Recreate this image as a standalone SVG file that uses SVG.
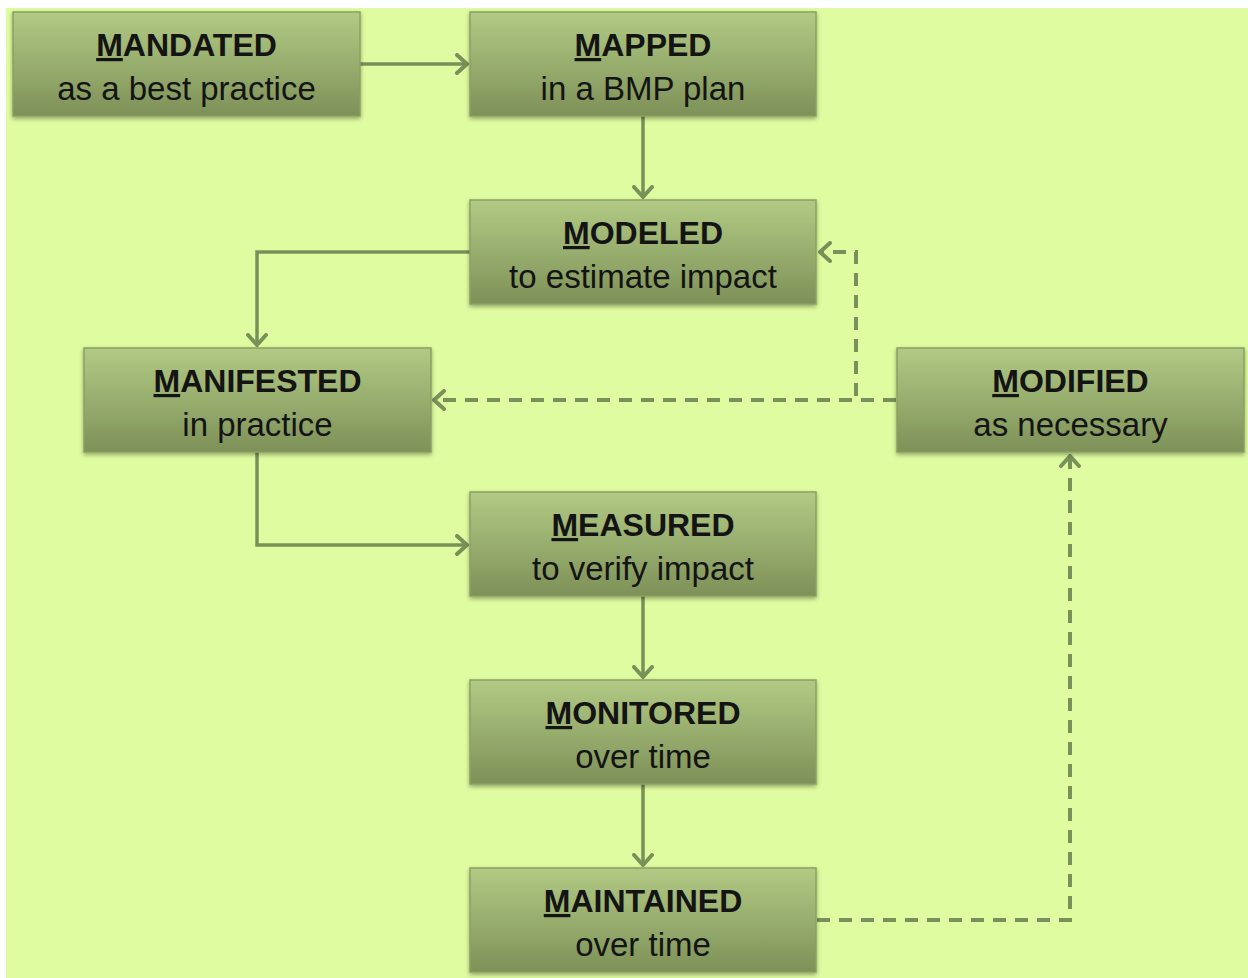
<svg xmlns="http://www.w3.org/2000/svg" width="1248" height="978" viewBox="0 0 1248 978">
<defs>
<linearGradient id="g" x1="0" y1="0" x2="0" y2="1">
<stop offset="0" stop-color="#b2ca84"/>
<stop offset="1" stop-color="#7e9158"/>
</linearGradient>
<filter id="sh" x="-10%" y="-10%" width="120%" height="130%">
<feDropShadow dx="0" dy="2" stdDeviation="2" flood-color="#000" flood-opacity="0.35"/>
</filter>
<marker id="ah" viewBox="0 0 14 22" refX="12" refY="11" markerWidth="14" markerHeight="22" markerUnits="userSpaceOnUse" orient="auto">
<path d="M2,2 L12,11 L2,20" fill="none" stroke="#78915a" stroke-width="4" stroke-linecap="round" stroke-linejoin="round"/>
</marker>
<style>
.box{fill:url(#g);stroke:#8aa064;stroke-width:1.5;filter:url(#sh)}
.t{font-family:"Liberation Sans",Arial,sans-serif;font-size:33px;fill:#141414;text-anchor:middle}
.b{font-weight:bold;font-size:32px}
.u{text-decoration:underline}
.c{fill:none;stroke:#78915a;stroke-width:3.5}
.d{fill:none;stroke:#78915a;stroke-width:4;stroke-dasharray:13 9}
</style>
</defs>
<rect x="0" y="0" width="1248" height="978" fill="#ffffff"/>
<rect x="6" y="8" width="1242" height="970" fill="#dffca0"/>
<g id="connectors">
<path class="c" d="M360,64 H467" marker-end="url(#ah)"/>
<path class="c" d="M643,116 V197" marker-end="url(#ah)"/>
<path class="c" d="M470,252 H257 V345" marker-end="url(#ah)"/>
<path class="c" d="M257,452 V545 H467" marker-end="url(#ah)"/>
<path class="c" d="M643,596 V677" marker-end="url(#ah)"/>
<path class="c" d="M643,784 V865" marker-end="url(#ah)"/>
<path class="d" d="M896,400 H434" marker-end="url(#ah)"/>
<path class="d" d="M896,400 H856 V252 H820" marker-end="url(#ah)"/>
<path class="d" d="M817,920 H1070 V456" marker-end="url(#ah)"/>
</g>
<g id="mandated">
<rect class="box" x="13" y="12" width="347" height="104"/>
<text class="t b" x="186.5" y="56"><tspan class="u">M</tspan>ANDATED</text>
<text class="t" x="186.5" y="100">as a best practice</text>
</g>
<g id="mapped">
<rect class="box" x="470" y="12" width="346" height="104"/>
<text class="t b" x="643" y="56"><tspan class="u">M</tspan>APPED</text>
<text class="t" x="643" y="100">in a BMP plan</text>
</g>
<g id="modeled">
<rect class="box" x="470" y="200" width="346" height="104"/>
<text class="t b" x="643" y="244"><tspan class="u">M</tspan>ODELED</text>
<text class="t" x="643" y="288">to estimate impact</text>
</g>
<g id="manifested">
<rect class="box" x="84" y="348" width="347" height="104"/>
<text class="t b" x="257.5" y="392"><tspan class="u">M</tspan>ANIFESTED</text>
<text class="t" x="257.5" y="436">in practice</text>
</g>
<g id="modified">
<rect class="box" x="897" y="348" width="347" height="104"/>
<text class="t b" x="1070.5" y="392"><tspan class="u">M</tspan>ODIFIED</text>
<text class="t" x="1070.5" y="436">as necessary</text>
</g>
<g id="measured">
<rect class="box" x="470" y="492" width="346" height="104"/>
<text class="t b" x="643" y="536"><tspan class="u">M</tspan>EASURED</text>
<text class="t" x="643" y="580">to verify impact</text>
</g>
<g id="monitored">
<rect class="box" x="470" y="680" width="346" height="104"/>
<text class="t b" x="643" y="724"><tspan class="u">M</tspan>ONITORED</text>
<text class="t" x="643" y="768">over time</text>
</g>
<g id="maintained">
<rect class="box" x="470" y="868" width="346" height="104"/>
<text class="t b" x="643" y="912"><tspan class="u">M</tspan>AINTAINED</text>
<text class="t" x="643" y="956">over time</text>
</g>
</svg>
